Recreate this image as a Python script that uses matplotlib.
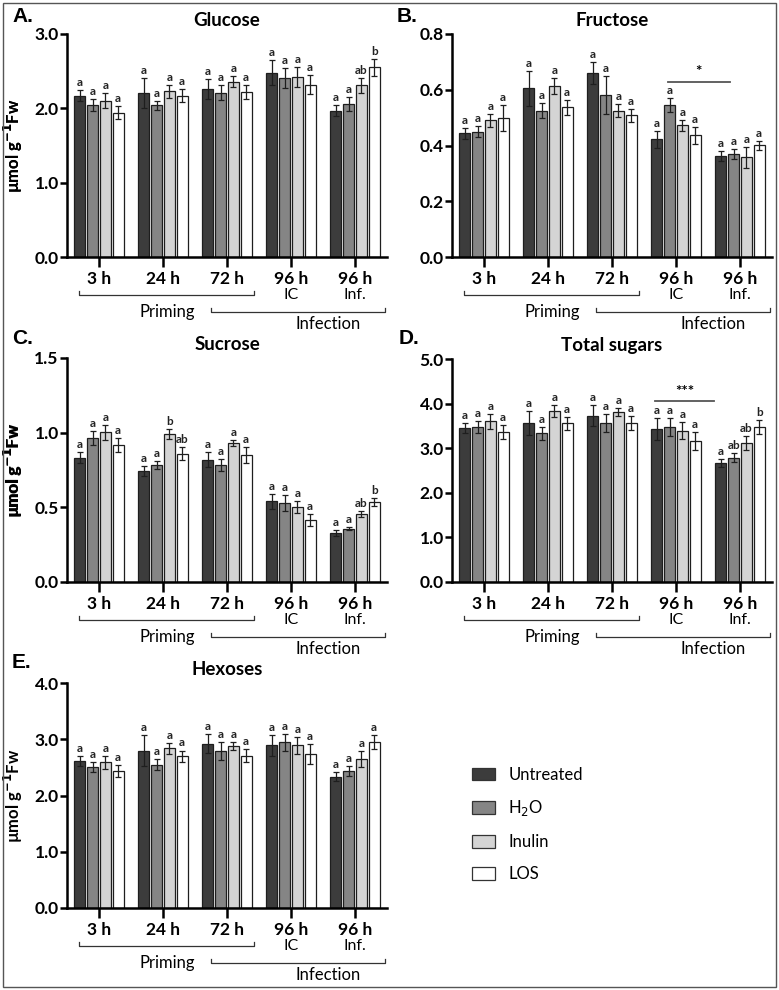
import numpy as np
import matplotlib
matplotlib.use('Agg')
from matplotlib import pyplot as plt
from matplotlib.patches import Patch, Rectangle
from matplotlib.ticker import FormatStrFormatter
from matplotlib.transforms import blended_transform_factory

plt.rcParams['font.family'] = ['Lato', 'DejaVu Sans']

W, H = 779, 990

treatments = ["Untreated", "H$_2$O", "Inulin", "LOS"]
colors = ["#3c3c3c", "#858585", "#d4d4d4", "#ffffff"]
groups = ["3 h", "24 h", "72 h", "96 h", "96 h"]
sublabels = ["", "", "", "IC", "Inf."]

# values per group (3 h, 24 h, 72 h, 96 h IC, 96 h Inf.), 4 treatments each
glucose_mean = [[2.17, 2.05, 2.10, 1.94], [2.21, 2.04, 2.23, 2.17], [2.26, 2.21, 2.36, 2.22],
                [2.48, 2.41, 2.42, 2.32], [1.97, 2.06, 2.31, 2.55]]
glucose_err = [[0.07, 0.08, 0.10, 0.09], [0.20, 0.06, 0.09, 0.09], [0.14, 0.10, 0.07, 0.09],
               [0.17, 0.13, 0.13, 0.13], [0.07, 0.09, 0.10, 0.12]]
glucose_letters = [["a"] * 4, ["a"] * 4, ["a"] * 4, ["a"] * 4, ["a", "a", "ab", "b"]]

fructose_mean = [[0.444, 0.449, 0.490, 0.498], [0.605, 0.525, 0.613, 0.537], [0.660, 0.582, 0.525, 0.508],
                 [0.422, 0.544, 0.472, 0.437], [0.362, 0.370, 0.357, 0.401]]
fructose_err = [[0.019, 0.020, 0.023, 0.047], [0.062, 0.026, 0.030, 0.026], [0.040, 0.069, 0.024, 0.024],
                [0.031, 0.025, 0.020, 0.030], [0.019, 0.017, 0.039, 0.016]]
fructose_letters = [["a"] * 4, ["a"] * 4, ["a"] * 4, ["a"] * 4, ["a"] * 4]

sucrose_mean = [[0.833, 0.964, 1.002, 0.915], [0.746, 0.786, 0.993, 0.859], [0.819, 0.786, 0.929, 0.850],
                [0.540, 0.529, 0.504, 0.416], [0.331, 0.356, 0.456, 0.533]]
sucrose_err = [[0.035, 0.047, 0.052, 0.047], [0.033, 0.027, 0.034, 0.043], [0.049, 0.040, 0.020, 0.054],
               [0.049, 0.055, 0.040, 0.040], [0.020, 0.011, 0.022, 0.027]]
sucrose_letters = [["a"] * 4, ["a", "a", "b", "ab"], ["a"] * 4, ["a"] * 4, ["a", "a", "ab", "b"]]

total_mean = [[3.45, 3.47, 3.60, 3.36], [3.56, 3.33, 3.84, 3.56], [3.73, 3.57, 3.81, 3.57],
              [3.43, 3.48, 3.39, 3.17], [2.67, 2.79, 3.12, 3.48]]
total_err = [[0.12, 0.13, 0.17, 0.16], [0.27, 0.14, 0.13, 0.15], [0.23, 0.20, 0.09, 0.16],
             [0.24, 0.20, 0.19, 0.20], [0.09, 0.11, 0.15, 0.16]]
total_letters = [["a"] * 4, ["a"] * 4, ["a"] * 4, ["a"] * 4, ["a", "ab", "ab", "b"]]

hexoses_mean = [[2.61, 2.50, 2.59, 2.44], [2.80, 2.55, 2.84, 2.70], [2.92, 2.79, 2.88, 2.71],
                [2.89, 2.95, 2.89, 2.74], [2.33, 2.43, 2.65, 2.95]]
hexoses_err = [[0.09, 0.09, 0.12, 0.11], [0.27, 0.10, 0.10, 0.10], [0.17, 0.16, 0.07, 0.11],
               [0.18, 0.15, 0.15, 0.18], [0.08, 0.09, 0.14, 0.13]]
hexoses_letters = [["a"] * 4] * 5

fig = plt.figure(figsize=(W / 100, H / 100), dpi=100)


def rect(l, r, t, b):
    return [l / W, 1 - b / H, (r - l) / W, (b - t) / H]


def panel(box, letter, letter_pos, title, mean, err, letters, ymax, step, sig=None):
    l, r, t, b = box
    ax = fig.add_axes(rect(l, r, t, b))
    x = np.arange(len(groups))
    m = np.array(mean).T
    e = np.array(err).T
    for i in range(4):
        xs = x + (i - 1.5) * 0.2
        ax.bar(xs, m[i], 0.17, color=colors[i], edgecolor="#1e1e1e", linewidth=0.9, zorder=2)
        ax.errorbar(xs, m[i], yerr=e[i], fmt="none", ecolor="#1e1e1e", elinewidth=0.9,
                    capsize=2, capthick=0.9, zorder=3)
        for j in range(len(groups)):
            ax.annotate(letters[j][i], (xs[j], m[i][j] + e[i][j]), xytext=(0, 2),
                        textcoords="offset pixels", ha="center", va="bottom",
                        fontsize=8.5, fontweight="bold", color="#222")
    ax.set_xlim(-0.5, 4.5)
    ax.set_ylim(0, ymax)
    ax.set_yticks(np.arange(0, ymax + step / 2, step))
    ax.yaxis.set_major_formatter(FormatStrFormatter("%.1f"))
    ax.set_xticks(x)
    ax.set_xticklabels(groups, fontsize=12.5, fontweight="bold")
    for lab in ax.get_yticklabels():
        lab.set_fontweight("bold")
        lab.set_fontsize(12.5)
    for s in ["top", "right"]:
        ax.spines[s].set_visible(False)
    for s in ["left", "bottom"]:
        ax.spines[s].set_linewidth(1.8)
    ax.tick_params(axis="y", length=5, width=1.8, pad=1)
    ax.tick_params(axis="x", length=7, width=1.8, pad=3)
    ax.set_ylabel("µmol g$^{\\mathbf{-1}}$Fw", fontsize=12, fontweight="bold")
    ax.yaxis.set_label_coords((25 - l) / (r - l), 0.5)
    ax.set_title(title, fontsize=13.5, fontweight="bold", pad=6)
    fig.text(letter_pos[0] / W, 1 - letter_pos[1] / H, letter, fontsize=15, fontweight="bold",
             family="Liberation Sans", va="center", ha="left")

    for j, s in enumerate(sublabels):
        if s:
            ax.annotate(s, (x[j], 0), xycoords=("data", "axes fraction"), xytext=(0, -38),
                        textcoords="offset pixels", ha="center", va="center", fontsize=11.5)

    tr = blended_transform_factory(ax.transData, fig.transFigure)

    def bracket(x0, x1, ypx):
        yf = 1 - (b + ypx) / H
        yt = 1 - (b + ypx - 4) / H
        ax.plot([x0, x0, x1, x1], [yt, yf, yf, yt], color="#333", lw=0.9,
                transform=tr, clip_on=False)

    bracket(-0.31, 2.42, 38)
    bracket(1.75, 4.47, 55)
    ax.annotate("Priming", (1.06, 0), xycoords=("data", "axes fraction"), xytext=(0, -55),
                textcoords="offset pixels", ha="center", va="center", fontsize=12)
    ax.annotate("Infection", (3.58, 0), xycoords=("data", "axes fraction"), xytext=(0, -67),
                textcoords="offset pixels", ha="center", va="center", fontsize=12)

    if sig:
        x0, x1, yl, ys, txt = sig
        ax.plot([x0, x1], [yl, yl], color="#555", lw=1.3, clip_on=False)
        ax.text((x0 + x1) / 2, ys, txt, ha="center", va="center", fontsize=11, fontweight="bold")
    return ax


panel((67, 387, 34, 257), "A.", (12, 17), "Glucose", glucose_mean, glucose_err, glucose_letters, 3.0, 1.0)
panel((452, 772, 34, 257), "B.", (397, 17), "Fructose", fructose_mean, fructose_err, fructose_letters,
      0.8, 0.2, sig=(2.87, 3.84, 0.629, 0.662, "*"))
panel((67, 387, 358, 582), "C.", (12, 338), "Sucrose", sucrose_mean, sucrose_err, sucrose_letters, 1.5, 0.5)
panel((452, 772, 359, 582), "D.", (399, 338), "Total sugars", total_mean, total_err, total_letters,
      5.0, 1.0, sig=(2.67, 3.6, 4.05, 4.26, "***"))
panel((67, 387, 683, 908), "E.", (12, 662), "Hexoses", hexoses_mean, hexoses_err, hexoses_letters, 4.0, 1.0)

handles = [Patch(facecolor=c, edgecolor="#333", linewidth=0.9) for c in colors]
fig.legend(handles, treatments, loc="upper left", bbox_to_anchor=(465 / W, 1 - 760 / H),
           frameon=False, fontsize=12, handlelength=1.4, handleheight=0.8,
           handletextpad=0.8, labelspacing=0.95, borderaxespad=0)

fig.add_artist(Rectangle((3 / W, 3 / H), (W - 6) / W, (H - 6) / H, transform=fig.transFigure,
                         fill=False, edgecolor="#555", linewidth=1))

fig.savefig("out.png", dpi=100)
